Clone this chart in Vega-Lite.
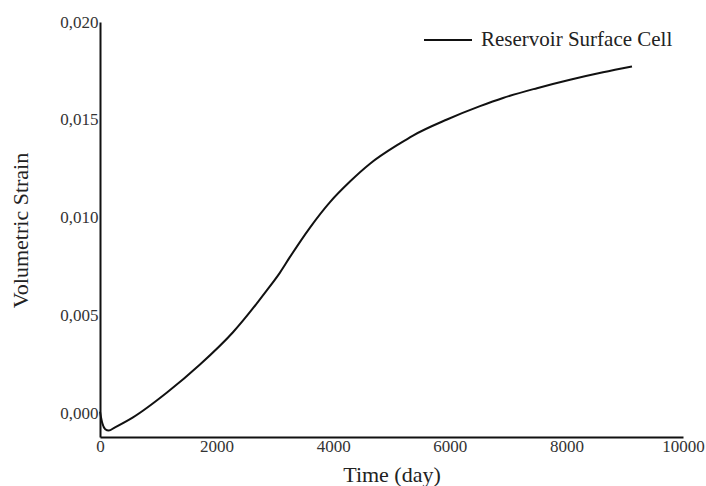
{
  "$schema": "https://vega.github.io/schema/vega-lite/v6.json",
  "width": 583,
  "height": 415,
  "autosize": {"type": "none"},
  "padding": {"left": 100, "top": 22, "right": 23, "bottom": 49},
  "background": "white",
  "config": {
    "view": {"stroke": null},
    "font": "Liberation Serif",
    "axis": {"grid": false, "ticks": false, "domainColor": "#111", "domainWidth": 2, "labelFont": "Liberation Serif", "titleFont": "Liberation Serif", "labelColor": "#333", "titleColor": "#222", "titleFontWeight": "normal", "labelFontSize": 17, "titleFontSize": 21}
  },
  "data": {
    "values": [
      {"t": 0, "s": 0.0001, "series": "Reservoir Surface Cell"},
      {"t": 40, "s": -0.0005, "series": "Reservoir Surface Cell"},
      {"t": 90, "s": -0.0008, "series": "Reservoir Surface Cell"},
      {"t": 150, "s": -0.00087, "series": "Reservoir Surface Cell"},
      {"t": 250, "s": -0.00072, "series": "Reservoir Surface Cell"},
      {"t": 566, "s": -0.0002, "series": "Reservoir Surface Cell"},
      {"t": 1149, "s": 0.00107, "series": "Reservoir Surface Cell"},
      {"t": 1715, "s": 0.0025, "series": "Reservoir Surface Cell"},
      {"t": 2281, "s": 0.00415, "series": "Reservoir Surface Cell"},
      {"t": 2864, "s": 0.0063, "series": "Reservoir Surface Cell"},
      {"t": 3087, "s": 0.0072, "series": "Reservoir Surface Cell"},
      {"t": 3259, "s": 0.008, "series": "Reservoir Surface Cell"},
      {"t": 3602, "s": 0.0095, "series": "Reservoir Surface Cell"},
      {"t": 3945, "s": 0.0108, "series": "Reservoir Surface Cell"},
      {"t": 4288, "s": 0.01185, "series": "Reservoir Surface Cell"},
      {"t": 4631, "s": 0.01276, "series": "Reservoir Surface Cell"},
      {"t": 5146, "s": 0.0138, "series": "Reservoir Surface Cell"},
      {"t": 5369, "s": 0.0142, "series": "Reservoir Surface Cell"},
      {"t": 5952, "s": 0.01502, "series": "Reservoir Surface Cell"},
      {"t": 6518, "s": 0.0157, "series": "Reservoir Surface Cell"},
      {"t": 6913, "s": 0.01612, "series": "Reservoir Surface Cell"},
      {"t": 7496, "s": 0.01662, "series": "Reservoir Surface Cell"},
      {"t": 8062, "s": 0.01705, "series": "Reservoir Surface Cell"},
      {"t": 8628, "s": 0.01743, "series": "Reservoir Surface Cell"},
      {"t": 9125, "s": 0.01773, "series": "Reservoir Surface Cell"}
    ]
  },
  "mark": {"type": "line", "interpolate": "monotone", "strokeWidth": 2},
  "encoding": {
    "x": {
      "field": "t", "type": "quantitative",
      "scale": {"domain": [0, 10000], "nice": false, "zero": false},
      "axis": {"title": "Time (day)", "values": [0, 2000, 4000, 6000, 8000, 10000], "format": "d", "labelPadding": 1, "titlePadding": 10, "titleFontSize": 22, "labelFlush": false}
    },
    "y": {
      "field": "s", "type": "quantitative",
      "scale": {"domain": [-0.0012, 0.02], "nice": false, "zero": false},
      "axis": {"title": "Volumetric Strain", "values": [0, 0.005, 0.01, 0.015, 0.02], "labelExpr": "replace(format(datum.value, '.3f'), '.', ',')", "labelPadding": 2, "titleX": -68, "titleY": 208, "titleFontSize": 22, "labelFlush": false}
    },
    "color": {
      "field": "series", "type": "nominal",
      "scale": {"range": ["#111111"]},
      "legend": {"title": null, "orient": "none", "legendX": 323, "legendY": -7, "symbolType": "stroke", "symbolSize": 2304, "symbolStrokeWidth": 2, "labelFont": "Liberation Serif", "labelFontSize": 21, "labelColor": "#222", "labelOffset": 8, "labelLimit": 0}
    }
  }
}
